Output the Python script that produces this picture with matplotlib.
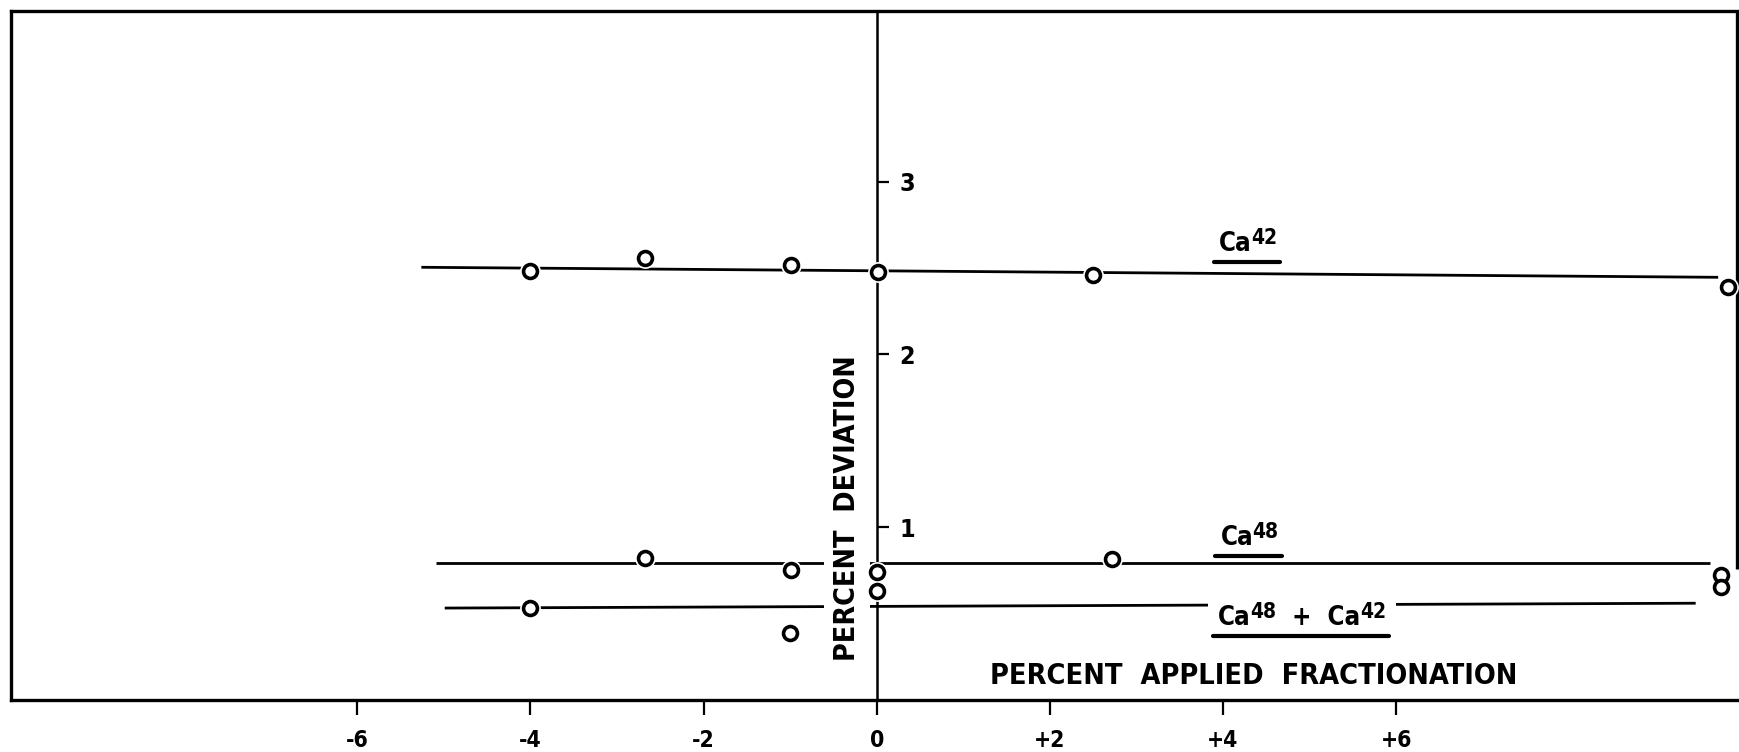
import matplotlib
matplotlib.use("Agg")
import matplotlib.pyplot as plt
from matplotlib.lines import Line2D
from matplotlib.patches import Rectangle

# ---------------- data ----------------
xtick_vals = [-6, -4, -2, 0, 2, 4, 6]
xtick_labels = ["-6", "-4", "-2", "0", "+2", "+4", "+6"]
ytick_vals = [1, 2, 3]
ytick_labels = ["1", "2", "3"]

# Ca42 series
ca42_x = [-4.0, -2.68, -0.99, 0.01, 2.50, 9.83]
ca42_y = [2.485, 2.556, 2.517, 2.479, 2.459, 2.388]
ca42_fit_x = [-5.26, 9.72]
ca42_fit_y = [2.504, 2.446]

# Ca48 series
ca48_x = [-2.68, -0.99, 0.0, 2.72, 9.75]
ca48_y = [0.822, 0.751, 0.738, 0.815, 0.726]
ca48_fit_x = [-5.09, 9.63]
ca48_fit_y = [0.795, 0.795]

# Ca48 + Ca42 series
mix_x = [-4.01, -1.0, 0.0, 9.75]
mix_y = [0.534, 0.39, 0.628, 0.654]
mix_fit_x = [-4.99, 9.46]
mix_fit_y = [0.532, 0.56]

# series labels: (text, is_superscript) parts, and baseline anchor
ca42_label = [("Ca", False), ("42", True)]
ca48_label = [("Ca", False), ("48", True)]
mix_label = [("Ca", False), ("48", True), ("  +  Ca", False), ("42", True)]
label_anchor_x = [3.95, 3.97, 3.94]
label_anchor_y = [2.60, 0.895, 0.434]

xlabel = "PERCENT  APPLIED  FRACTIONATION"
ylabel = "PERCENT  DEVIATION"

# ---------------- style ----------------
plt.rcParams["font.family"] = ["DejaVu Sans"]
plt.rcParams["font.stretch"] = "condensed"
plt.rcParams["font.weight"] = "bold"

W, H = 1740, 752
fig = plt.figure(figsize=(W / 100, H / 100), dpi=100)
ax = fig.add_axes([11 / W, (H - 700) / H, (1736.7 - 11) / W, (700 - 11) / H])
ax.set_xlim(-10.0, 9.934)
ax.set_ylim(0, 3.987)

frame_lw = 2.4
for s in ["left", "top", "bottom"]:
    ax.spines[s].set_linewidth(frame_lw)
ax.spines["right"].set_position(("data", 0))
ax.spines["right"].set_linewidth(1.8)
ax.plot([1, 1], [1, 0.19], transform=ax.transAxes, color="k", lw=frame_lw,
        clip_on=False, solid_capstyle="butt")

ax.set_xticks(xtick_vals)
ax.set_xticklabels(xtick_labels)
ax.tick_params(axis="x", direction="out", length=10.8, width=1.6, pad=10,
               labelsize=16.5)
ax.yaxis.tick_right()
ax.set_yticks(ytick_vals)
ax.set_yticklabels(ytick_labels)
ax.tick_params(axis="y", direction="out", length=8.5, width=1.6, pad=8,
               labelsize=18)

line_kw = dict(color="k", lw=2.0, zorder=2, solid_capstyle="butt")
ax.plot(ca42_fit_x, ca42_fit_y, **line_kw)
ax.plot(ca48_fit_x, ca48_fit_y, **line_kw)
ax.plot(mix_fit_x, mix_fit_y, **line_kw)

ms, mew = 10.0, 2.6
for xs, ys in [(ca42_x, ca42_y), (ca48_x, ca48_y), (mix_x, mix_y)]:
    ax.plot(xs, ys, "o", ms=ms + 5, mfc="white", mec="none", zorder=3.5,
            clip_on=False)
for xs, ys in [(ca42_x, ca42_y), (ca48_x, ca48_y), (mix_x, mix_y)]:
    ax.plot(xs, ys, "o", ms=ms, mfc="white", mec="k", mew=mew, zorder=4,
            clip_on=False)

# series labels built from base text + superscripts
base_fs, sup_fs, sup_raise = 18.5, 15, 5.0


def make_label(parts, x, y):
    first = ax.text(x, y, parts[0][0], fontsize=base_fs, ha="left",
                    va="baseline", zorder=5)
    arts = [first]
    prev = first
    for txt, sup in parts[1:]:
        t = ax.annotate(txt, xy=(1, y), xycoords=(prev, "data"),
                        xytext=(-0.3 if sup else 0.0, sup_raise if sup else 0.0),
                        textcoords="offset points", ha="left", va="baseline",
                        fontsize=sup_fs if sup else base_fs, zorder=5)
        arts.append(t)
        prev = t
    return arts


labels = [
    make_label(ca42_label, label_anchor_x[0], label_anchor_y[0]),
    make_label(ca48_label, label_anchor_x[1], label_anchor_y[1]),
    make_label(mix_label, label_anchor_x[2], label_anchor_y[2]),
]
white_bg = [False, False, True]

# axis titles
ax.text(4.35, 0.141, xlabel, fontsize=20.7, ha="center", va="center", zorder=5)
ax.text(-0.343, 1.11, ylabel, fontsize=20.5, rotation=90, ha="center",
        va="center", zorder=3,
        bbox=dict(boxstyle="square,pad=0.3", fc="white", ec="none"))

# underline the series labels (and blank the line behind the combined label)
fig.canvas.draw()
r = fig.canvas.get_renderer()
inv = fig.transFigure.inverted()
inv_ax = ax.transAxes.inverted()
for arts, lx, ly, bg in zip(labels, label_anchor_x, label_anchor_y, white_bg):
    bx0 = arts[0].get_window_extent(r).x0
    bx1 = arts[-1].get_window_extent(r).x1
    base_px = ax.transData.transform((lx, ly))[1]
    (x0, y0), (x1, y1) = inv.transform([(bx0 - 5, base_px - 11),
                                        (bx1 + 3, base_px - 11)])
    fig.add_artist(Line2D([x0, x1], [y0, y1], color="k", lw=3.0,
                          solid_capstyle="round"))
    if bg:
        (a0, b0), (a1, b1) = inv_ax.transform([(bx0 - 10, base_px - 4),
                                               (bx1 + 10, base_px + 26)])
        ax.add_patch(Rectangle((a0, b0), a1 - a0, b1 - b0,
                               transform=ax.transAxes, fc="white", ec="none",
                               zorder=4.5))

fig.savefig("out.png", dpi=100, facecolor="white")
